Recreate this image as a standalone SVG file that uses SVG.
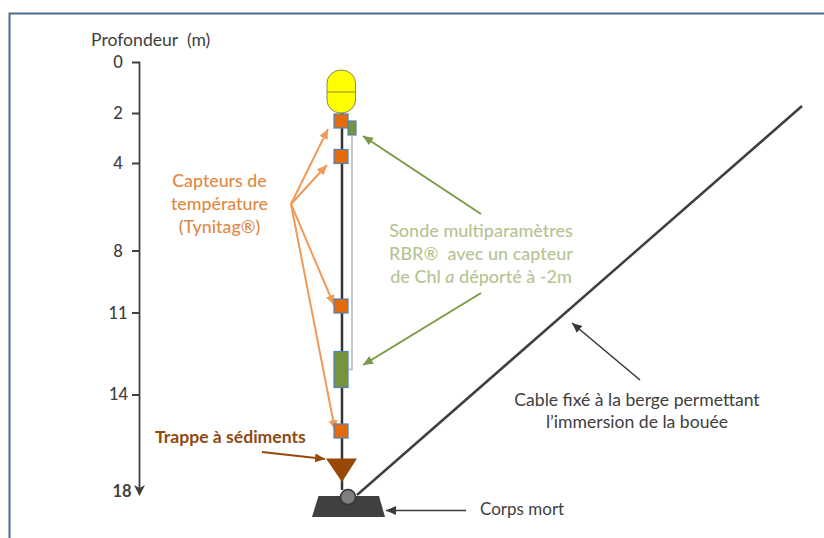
<svg xmlns="http://www.w3.org/2000/svg" width="824" height="538" viewBox="0 0 824 538">
<style>
text{font-family:Lato,"Open Sans","Liberation Sans",sans-serif;font-size:17.6px}
.m{text-anchor:middle}
.d{fill:#404040}
.n{fill:#404040;font-size:16.5px;font-weight:500;text-anchor:middle}
.o{fill:#e08a45;font-size:17.800px;font-weight:500}
.g{fill:#b5c493;font-size:18px;font-weight:500}
.or{stroke:#f09a58;stroke-width:2;fill:none;marker-end:url(#ao)}
.gr{stroke:#7a9a45;stroke-width:2;fill:none;marker-end:url(#ag)}
.bl{stroke:#3a3a3a;stroke-width:1.600;fill:none;marker-end:url(#ak)}
.sq{fill:#e36c0a;stroke:#4f81bd;stroke-width:1.200}
.gb{fill:#77933c;stroke:#4f81bd;stroke-width:1.200}
</style>
<defs>
<marker id="ao" markerUnits="userSpaceOnUse" markerWidth="12" markerHeight="10" refX="10" refY="4.500" orient="auto"><path d="M0 0L10 4.500L0 9z" fill="#f09a58"/></marker>
<marker id="ag" markerUnits="userSpaceOnUse" markerWidth="12" markerHeight="10" refX="10" refY="4.500" orient="auto"><path d="M0 0L10 4.500L0 9z" fill="#7a9a45"/></marker>
<marker id="ak" markerUnits="userSpaceOnUse" markerWidth="12" markerHeight="10" refX="10" refY="4.500" orient="auto"><path d="M0 0L10 4.500L0 9z" fill="#3a3a3a"/></marker>
<marker id="ab" markerUnits="userSpaceOnUse" markerWidth="12" markerHeight="10" refX="10" refY="4.500" orient="auto"><path d="M0 0L10 4.500L0 9z" fill="#984807"/></marker>
</defs>
<rect width="824" height="538" fill="#fff"/>
<path id="frame" d="M9.500 538V13.500H824" fill="none" stroke="#4a6d8f" stroke-width="2"/>
<g id="axis">
<path d="M132 62.500H139.500V490" fill="none" stroke="#404040" stroke-width="1.800"/>
<path d="M132 113.500H139M132 163.500H139M132 251H139M132 313H139M132 395H139" stroke="#404040" stroke-width="1.800"/>
<path d="M134 485L139.500 496L145 485L139.500 488z" fill="#404040"/>
<text x="91" y="46" class="d" xml:space="preserve">Profondeur  (m)</text>
<text x="118" y="68" class="n">0</text><text x="118" y="118.500" class="n">2</text><text x="118" y="168.500" class="n">4</text><text x="118" y="256.500" class="n">8</text><text x="118" y="318.500" class="n">11</text><text x="118.500" y="400" class="n">14</text><text x="122" y="497" class="n" font-weight="700" style="font-weight:700">18</text>
</g>
<g id="connectors">
<path d="M342 110V490" stroke="#333" stroke-width="2.500"/>
<path d="M352 136V369.500H348" fill="none" stroke="#b5b5b5" stroke-width="1.500"/>
<path d="M357 495L802 106" stroke="#3f3f3f" stroke-width="2.500"/>
<path class="or" d="M291 204L328 129"/>
<path class="or" d="M291 204L327 165"/>
<path class="or" d="M291 204L334 305"/>
<path class="or" d="M291 204L335 430"/>
<path class="gr" d="M481 214L363 136"/>
<path class="gr" d="M481 293L363 365"/>
<path d="M262 452L325 459" fill="none" stroke="#984807" stroke-width="2" marker-end="url(#ab)"/>
<path class="bl" d="M640 380L572 323"/>
<path class="bl" d="M466 510.500H386"/>
</g>
<g id="bouee"><rect x="327" y="70" width="28.500" height="43" rx="14" ry="13" fill="#ffff00" stroke="#8a8a5a"/><path d="M327 92H355" stroke="#8a8a2a"/></g>
<g id="capteur1"><rect x="334" y="114" width="14" height="14" class="sq"/></g>
<g id="capteur2"><rect x="334" y="149.500" width="14" height="14" class="sq"/></g>
<g id="capteur3"><rect x="334" y="299" width="14" height="14" class="sq"/></g>
<g id="capteur4"><rect x="334" y="424" width="14" height="14" class="sq"/></g>
<g id="chl"><rect x="348" y="121" width="8" height="14" class="gb"/></g>
<g id="sonde"><rect x="334" y="351.500" width="14" height="36" class="gb"/></g>
<g id="trappe"><path d="M326 458.500H357L342 482z" fill="#984807"/></g>
<g id="corps"><path d="M318.500 496H379L385 517H312z" fill="#404040"/><circle cx="348" cy="497" r="7.500" fill="#7f7f7f" stroke="#333" stroke-width="1.500"/></g>
<g id="lbl-capteurs"><text x="219.500" y="187" class="o m">Capteurs de</text><text x="219.500" y="210" class="o m">température</text><text x="219.500" y="233" class="o m">(Tynitag®)</text></g>
<g id="lbl-sonde"><text x="481" y="237" class="g m">Sonde multiparamètres</text><text x="481" y="260" class="g m" xml:space="preserve">RBR®  avec un capteur</text><text x="481" y="283" class="g m">de Chl <tspan font-style="italic">a</tspan> déporté à -2m</text></g>
<text id="lbl-trappe" x="155" y="443" fill="#8f4a12" font-weight="700">Trappe à sédiments</text>
<g id="lbl-cable"><text x="637" y="406" class="d m">Cable fixé à la berge permettant</text><text x="637" y="428" class="d m">l’immersion de la bouée</text></g>
<text id="lbl-corps" x="480" y="515" class="d" style="font-size:17px">Corps mort</text>
</svg>
